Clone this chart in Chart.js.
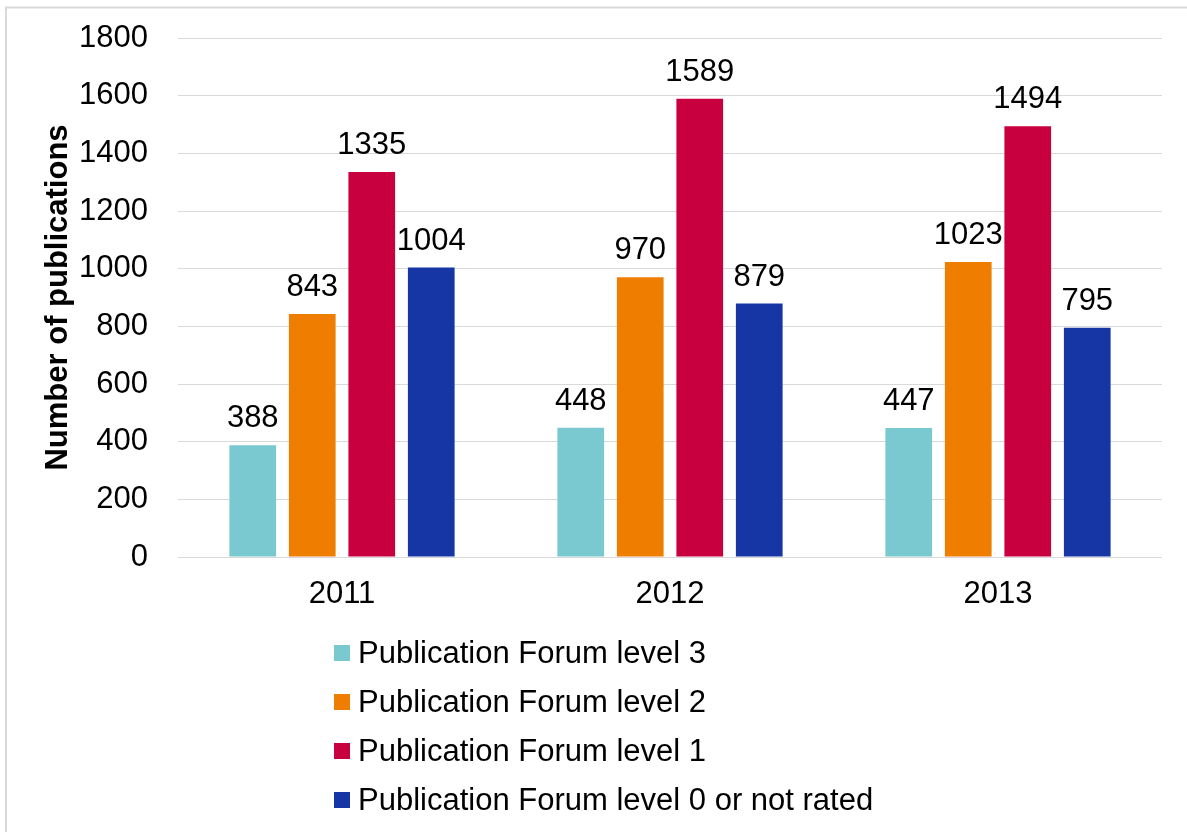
<!DOCTYPE html>
<html>
<head>
<meta charset="utf-8">
<script src="https://cdn.jsdelivr.net/npm/chart.js@4/dist/chart.umd.min.js"></script>
<style>
  html, body { margin: 0; padding: 0; background: #ffffff; }
  canvas { display: block; }
</style>
</head>
<body>
<canvas id="c" width="1187" height="832"></canvas>
<script>
const categories = ['2011', '2012', '2013'];
const seriesNames = [
  'Publication Forum level 3',
  'Publication Forum level 2',
  'Publication Forum level 1',
  'Publication Forum level 0 or not rated'
];
const level3 = [388, 448, 447];
const level2 = [843, 970, 1023];
const level1 = [1335, 1589, 1494];
const level0 = [1004, 879, 795];
const yTicks = [0, 200, 400, 600, 800, 1000, 1200, 1400, 1600, 1800];
const colors = ['#7AC8D0', '#EF7D00', '#C8003F', '#1636A6'];

const FONT = '"Liberation Sans", Arial, sans-serif';
const FS = 31;

const frame = {
  id: 'frame',
  beforeDraw(chart) {
    const ctx = chart.ctx;
    ctx.save();
    ctx.fillStyle = '#ffffff';
    ctx.fillRect(0, 0, chart.width, chart.height);
    ctx.strokeStyle = '#d9d9d9';
    ctx.lineWidth = 2;
    ctx.beginPath();
    ctx.moveTo(6, chart.height);
    ctx.lineTo(6, 7.5);
    ctx.lineTo(chart.width, 7.5);
    ctx.stroke();
    ctx.restore();
  }
};

const valueLabels = {
  id: 'valueLabels',
  afterDatasetsDraw(chart) {
    const ctx = chart.ctx;
    ctx.save();
    ctx.font = FS + 'px ' + FONT;
    ctx.fillStyle = '#000000';
    ctx.textAlign = 'center';
    ctx.textBaseline = 'alphabetic';
    chart.data.datasets.forEach((ds, i) => {
      const meta = chart.getDatasetMeta(i);
      meta.data.forEach((bar, j) => {
        ctx.fillText(String(ds.data[j]), bar.x, bar.y - 18);
      });
    });
    ctx.restore();
  }
};

const listLegend = {
  id: 'listLegend',
  afterDraw(chart) {
    const ctx = chart.ctx;
    ctx.save();
    ctx.font = FS + 'px ' + FONT;
    ctx.textAlign = 'left';
    ctx.textBaseline = 'middle';
    chart.data.datasets.forEach((ds, i) => {
      const cy = 653 + i * 49;
      ctx.fillStyle = ds.backgroundColor;
      ctx.fillRect(334, cy - 8, 16, 16);
      ctx.fillStyle = '#000000';
      ctx.fillText(ds.label, 358, cy + 1);
    });
    ctx.restore();
  }
};

const seriesValues = [level3, level2, level1, level0];

new Chart(document.getElementById('c'), {
  type: 'bar',
  data: {
    labels: categories,
    datasets: seriesNames.map((name, i) => ({
      label: name,
      data: seriesValues[i],
      backgroundColor: colors[i],
      borderWidth: 0,
      categoryPercentage: 0.7256,
      barPercentage: 0.785
    }))
  },
  options: {
    responsive: false,
    animation: false,
    layout: { padding: { top: 38, right: 25, bottom: 215, left: 0 } },
    plugins: {
      legend: { display: false },
      tooltip: { enabled: false }
    },
    scales: {
      x: {
        grid: { display: false, drawTicks: false },
        border: { display: false },
        ticks: { font: { family: FONT, size: FS }, color: '#000000', padding: 19 },
        afterFit(scale) { scale.height = 60; scale.paddingLeft = 0; scale.paddingRight = 0; }
      },
      y: {
        min: 0,
        max: 1800,
        afterBuildTicks(scale) { scale.ticks = yTicks.map(v => ({ value: v })); },
        grid: { color: '#d9d9d9', lineWidth: 1, drawTicks: false },
        border: { display: false },
        ticks: {
          font: { family: FONT, size: FS },
          color: '#000000',
          padding: 30,
          callback: (v) => String(v)
        },
        title: {
          display: true,
          text: 'Number of publications',
          font: { family: FONT, size: FS, weight: 'bold' },
          color: '#000000',
          padding: { top: 40, bottom: 0 }
        },
        afterFit(scale) { scale.width = 178; scale.paddingTop = 0; scale.paddingBottom = 0; }
      }
    }
  },
  plugins: [frame, valueLabels, listLegend]
});
</script>
</body>
</html>
